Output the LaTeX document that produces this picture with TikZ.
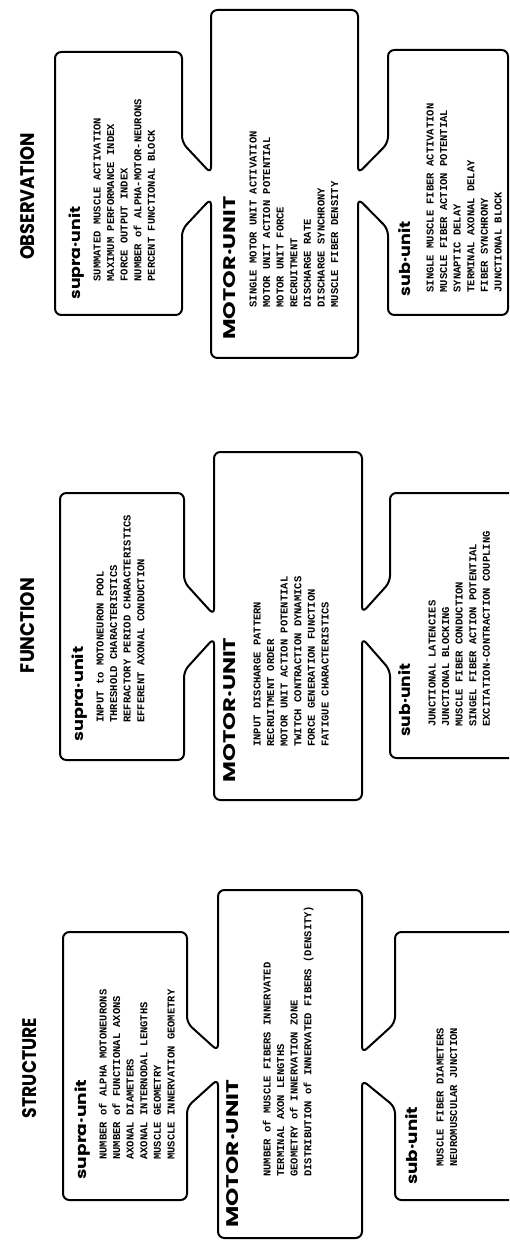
\documentclass[tikz,border=0pt]{standalone}
\usepackage{fontspec}
\newfontfamily\headfont{Poppins}
\newfontfamily\monofont{Liberation Mono}
\tikzset{
  outl/.style={draw=black, line width=1pt, rounded corners=3.2pt, line join=round},
  txt/.style={font=\monofont\bfseries\fontsize{5.25}{6.8}\selectfont, inner sep=0pt, anchor=base west, rotate=90},
  head/.style={inner sep=0pt, anchor=west, rotate=90},
  ttl/.style={inner sep=0pt, anchor=center, rotate=90},
}
\newcommand\hd[3]{\resizebox{#1pt}{#2pt}{\headfont\bfseries #3}}
\newcommand\txtlines[4]{%
  \foreach \tline [count=\k] in {#4}{
    \node[txt] (#1\k) at ({#2+(\k-1)*13.6},#3) {\tline};
  }}
\begin{document}
\begin{tikzpicture}[x=0.5pt,y=-0.5pt]
\useasboundingbox (0,0) rectangle (509,1240);
\clip (0,0) rectangle (509,1240);

% ---------------- OBSERVATION ----------------
\node[ttl] (obs) at (28,196.5) {\hd{63.5}{7}{OBSERVATION}};
\draw[outl] (55,52) -- (182,52) -- (182,142.5) -- (211,173.5) -- (211,10)
  -- (358,10) -- (358,173.5) -- (388,143) -- (388,50) -- (508,50) -- (508,315)
  -- (388,315) -- (388,229) -- (358,198.5) -- (358,358) -- (211,358)
  -- (211,198.5) -- (182,229.5) -- (182,315) -- (55,315) -- cycle;
\node[head] (osh) at (77,300) {\hd{46.5}{5.8}{supra·unit}};
\txtlines{os}{100.5}{282}{{SUMMATED MUSCLE ACTIVATION},{MAXIMUM PERFORMANCE INDEX},{FORCE OUTPUT INDEX},{NUMBER of ALPHA-MOTOR-NEURONS},{PERCENT FUNCTIONAL BLOCK}}
\node[head] (omh) at (230,340) {\hd{71.5}{6}{MOTOR·UNIT}};
\txtlines{om}{256.5}{308}{{SINGLE MOTOR UNIT ACTIVATION},{MOTOR UNIT ACTION POTENTIAL},{MOTOR UNIT FORCE},{RECRUITMENT},{DISCHARGE RATE},{DISCHARGE SYNCHRONY},{MUSCLE FIBER DENSITY}}
\node[head] (obh) at (405,297) {\hd{37.5}{6}{sub·unit}};
\txtlines{ob}{433.5}{293}{{SINGLE MUSCLE FIBER ACTIVATION},{MUSCLE FIBER ACTION POTENTIAL},{SYNAPTIC DELAY},{TERMINAL AXONAL DELAY},{FIBER SYNCHRONY},{JUNCTIONAL BLOCK}}

% ---------------- FUNCTION ----------------
\node[ttl] (fun) at (28,625.5) {\hd{47.5}{7}{FUNCTION}};
\draw[outl] (60,493) -- (184,493) -- (184,582) -- (214,615) -- (214,452)
  -- (362,452) -- (362,613) -- (390,582) -- (390,493) -- (525,493) -- (525,758)
  -- (390,758) -- (390,670) -- (362,638) -- (362,800) -- (214,800)
  -- (214,638) -- (184,671) -- (184,760) -- (60,760) -- cycle;
\node[head] (fsh) at (80,742) {\hd{47.5}{5.8}{supra·unit}};
\txtlines{fs}{103.5}{723}{{INPUT to MOTONEURON POOL},{THRESHOLD CHARACTERISTICS},{REFRACTORY PERIOD CHARACTERISTICS},{EFFERENT AXONAL CONDUCTION}}
\node[head] (fmh) at (230,783) {\hd{72.5}{6}{MOTOR·UNIT}};
\txtlines{fm}{260.5}{747}{{INPUT DISCHARGE PATTERN},{RECRUITMENT ORDER},{MOTOR UNIT ACTION POTENTIAL},{TWITCH CONTRACTION DYNAMICS},{FORCE GENERATION FUNCTION},{FATIGUE CHARACTERISTICS}}
\node[head] (fbh) at (405,737) {\hd{36.5}{6}{sub·unit}};
\txtlines{fb}{435.5}{727}{{JUNCTIONAL LATENCIES},{JUNCTIONAL BLOCKING},{MUSCLE FIBER CONDUCTION},{SINGEL FIBER ACTION POTENTIAL},{EXCITATION-CONTRACTION COUPLING}}

% ---------------- STRUCTURE ----------------
\node[ttl] (str) at (30,1068) {\hd{50}{7}{STRUCTURE}};
\draw[outl] (63,932) -- (187,932) -- (187,1023) -- (218,1051) -- (218,890)
  -- (362,890) -- (362,1053) -- (395,1023) -- (395,932) -- (525,932) -- (525,1200)
  -- (395,1200) -- (395,1107) -- (362,1080) -- (362,1238) -- (218,1238)
  -- (218,1079) -- (187,1107) -- (187,1200) -- (63,1200) -- cycle;
\node[head] (ssh) at (83,1180) {\hd{50}{5.8}{supra·unit}};
\txtlines{ss}{106.5}{1160}{{NUMBER of ALPHA MOTONEURONS},{NUMBER of FUNCTIONAL AXONS},{AXONAL DIAMETERS},{AXONAL INTERNODAL LENGTHS},{MUSCLE GEOMETRY},{MUSCLE INNERVATION GEOMETRY}}
\node[head] (smh) at (233,1228) {\hd{74}{6}{MOTOR·UNIT}};
\txtlines{sm}{270.5}{1177}{{NUMBER of MUSCLE FIBERS INNERVATED},{TERMINAL AXON LENGTHS},{GEOMETRY of INNERVATION ZONE},{DISTRIBUTION of INNERVATED FIBERS (DENSITY)}}
\node[head] (sbh) at (412,1185) {\hd{39}{6}{sub·unit}};
\txtlines{sb}{443.5}{1167}{{MUSCLE FIBER DIAMETERS},{NEUROMUSCULAR JUNCTION}}
\end{tikzpicture}
\end{document}
